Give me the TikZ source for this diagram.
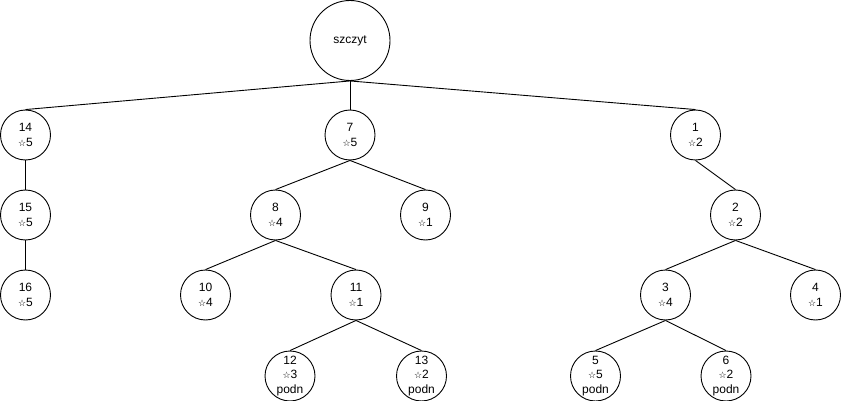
\documentclass[tikz,border=0pt]{standalone}
\usepackage{fontspec}
\setmainfont{Liberation Sans}
\newfontfamily\symfont{DejaVu Sans}
\usetikzlibrary{backgrounds}
\newcommand\st{{\symfont\fontsize{9}{9}\selectfont ☆}}
\begin{document}
\begin{tikzpicture}[x=1pt,y=-1pt,
  vert/.style={circle,draw,fill=white,line width=0.9pt,minimum size=50pt,
    inner sep=0pt,align=center,font=\fontsize{12}{14.5}\selectfont},
  rootvert/.style={vert,minimum size=80pt},
  link/.style={draw,line width=0.9pt}]
\useasboundingbox (0,0) rectangle (841,401);

% root
\node[rootvert] (r) at (350,40.5) {szczyt};

% left branch
\node[vert] (n14) at (25.5,135) {14\\\st5};
\node[vert] (n15) at (25.5,215) {15\\\st5};
\node[vert] (n16) at (25.5,295) {16\\\st5};

% middle branch
\node[vert] (n7)  at (350,135)   {7\\\st5};
\node[vert] (n8)  at (275.5,215) {8\\\st4};
\node[vert] (n9)  at (425.5,215) {9\\\st1};
\node[vert] (n10) at (205.5,295) {10\\\st4};
\node[vert] (n11) at (356,295)   {11\\\st1};
\node[vert] (n12) at (290,376)   {12\\\st3\\podn};
\node[vert] (n13) at (421.5,376) {13\\\st2\\podn};

% right branch
\node[vert] (n1) at (695.5,135) {1\\\st2};
\node[vert] (n2) at (735.5,215) {2\\\st2};
\node[vert] (n3) at (665.5,295) {3\\\st4};
\node[vert] (n4) at (815.5,295) {4\\\st1};
\node[vert] (n5) at (595.5,376) {5\\\st5\\podn};
\node[vert] (n6) at (726,376)   {6\\\st2\\podn};

\begin{scope}[on background layer]
  \foreach \p/\c in {r/n14, r/n7, r/n1,
                     n14/n15, n15/n16,
                     n7/n8, n7/n9, n8/n10, n8/n11, n11/n12, n11/n13,
                     n1/n2, n2/n3, n2/n4, n3/n5, n3/n6}
    \path[link] (\p.south) -- (\c.north);
\end{scope}
\end{tikzpicture}
\end{document}
